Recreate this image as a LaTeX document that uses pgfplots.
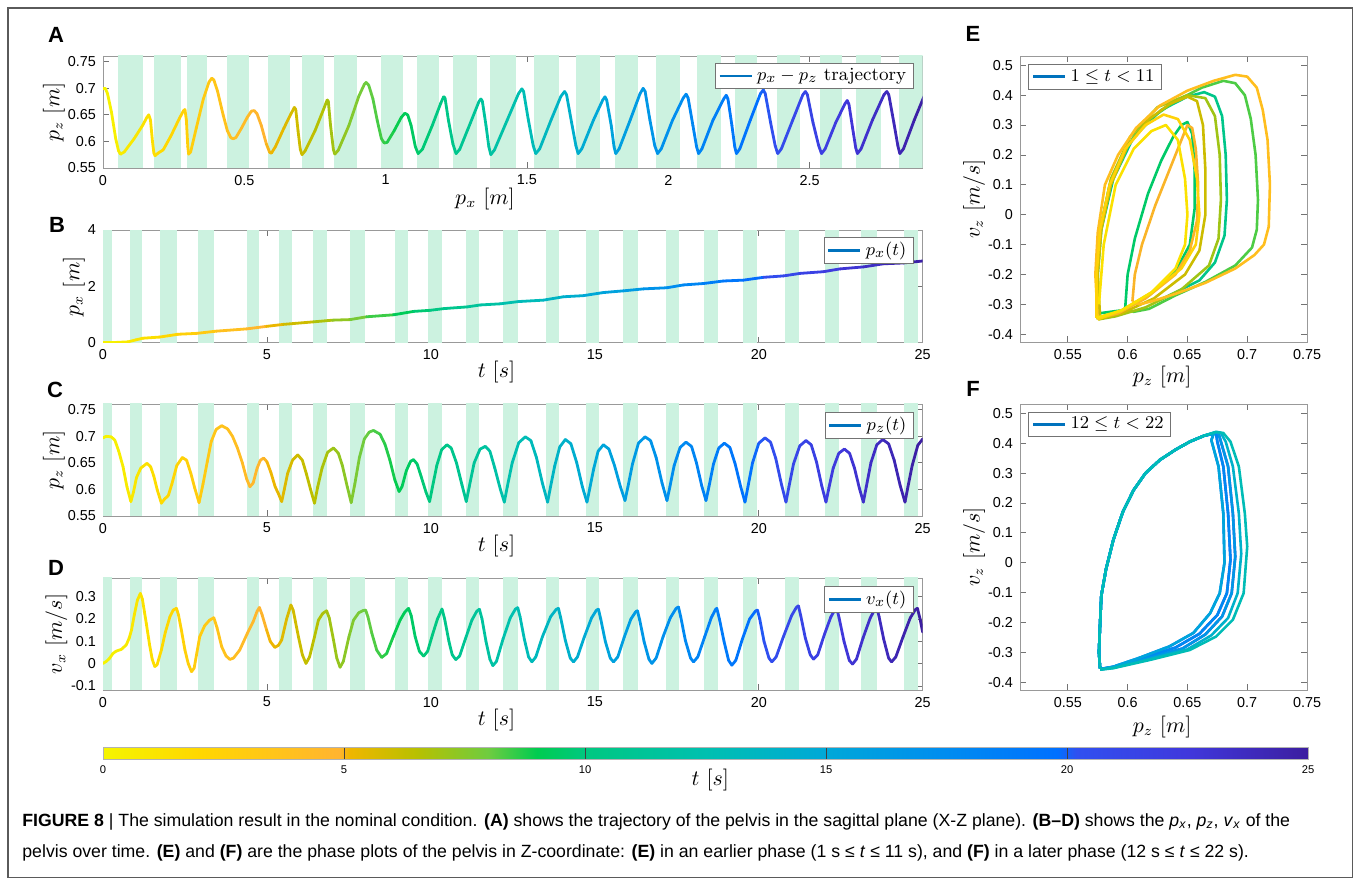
\documentclass[border=0pt]{standalone}
\usepackage{fontspec}
\usepackage{pgfplots}
\pgfplotsset{compat=1.18}
\newfontfamily\arial{Liberation Sans}
\newfontfamily\capfont{Liberation Sans}
\newcommand{\tickfont}{\arial\fontsize{7.2}{8}\selectfont}
\definecolor{band}{RGB}{204,242,224}
\definecolor{mblue}{RGB}{0,114,189}
\definecolor{frame}{RGB}{90,90,90}
% loop colours (sampled from the colour map at the cycle time)
\definecolor{c01}{RGB}{251,225,0}
\definecolor{c02}{RGB}{255,210,7}
\definecolor{c03}{RGB}{255,190,30}
\definecolor{c04}{RGB}{250,180,40}
\definecolor{c05}{RGB}{204,188,0}
\definecolor{c06}{RGB}{160,196,21}
\definecolor{c07}{RGB}{77,204,69}
\definecolor{c08}{RGB}{0,202,104}
\definecolor{c09}{RGB}{0,198,138}
\definecolor{c12}{RGB}{0,188,182}
\definecolor{c14}{RGB}{0,177,202}
\definecolor{c15}{RGB}{0,165,219}
\definecolor{c16}{RGB}{0,151,230}
\definecolor{c17}{RGB}{0,136,242}
\definecolor{c19}{RGB}{0,122,250}
\definecolor{c20}{RGB}{48,80,240}
\definecolor{c21}{RGB}{56,67,230}

\pgfplotsset{
  colormap={tmap}{rgb255(0cm)=(245,245,0); rgb255(2cm)=(255,215,0); rgb255(4.9cm)=(255,180,48);
    rgb255(5.1cm)=(240,182,0); rgb255(6.5cm)=(184,192,0); rgb255(8cm)=(110,204,64);
    rgb255(9cm)=(0,204,80); rgb255(10cm)=(0,200,128); rgb255(12.5cm)=(0,192,176);
    rgb255(15cm)=(0,168,216); rgb255(17.5cm)=(0,140,240); rgb255(19.8cm)=(0,112,255);
    rgb255(20.2cm)=(48,80,240); rgb255(22.5cm)=(64,56,220); rgb255(25cm)=(60,30,160)},
  colormap name=tmap,
  base/.style={
    scale only axis,
    axis line style={black!40},
    tick style={black!55, line width=0.4pt},
    major tick length=2.8pt,
    tick align=inside,
    tick label style={font=\tickfont},
    /pgf/number format/assume math mode=true,
    /pgf/number format/fixed,
    label style={font=\fontsize{10.5}{12}\selectfont},
    legend style={draw=black!55, font=\fontsize{9.3}{11}\selectfont,
      inner xsep=1.5pt, inner ysep=0.5pt, row sep=-1pt},
    legend image code/.code={\draw[mblue, line width=1.4pt] (0pt,0pt) -- (16pt,0pt);},
    legend cell align=left,
  },
  curve/.style={mesh, line width=1.4pt, line cap=round, forget plot},
  loop/.style={line width=1.3pt, line join=round, forget plot},
}
\newcommand{\band}[2]{\addplot[fill=band, draw=none, forget plot] coordinates {(#1,-10) (#1,10) (#2,10) (#2,-10)};}
\newcommand{\tbands}{%
  \band{0}{0.26}\band{0.81}{1.18}\band{1.75}{2.27}\band{2.90}{3.40}\band{4.38}{4.77}%
  \band{5.38}{5.75}\band{6.41}{6.82}\band{7.54}{7.99}\band{8.92}{9.31}\band{9.92}{10.34}%
  \band{11.07}{11.48}\band{12.20}{12.66}\band{13.51}{13.92}\band{14.72}{15.13}%
  \band{15.87}{16.31}\band{17.17}{17.57}\band{18.34}{18.77}\band{19.53}{19.95}%
  \band{20.80}{21.22}\band{22.01}{22.44}\band{23.13}{23.62}\band{24.42}{24.87}}

\begin{document}
\begin{tikzpicture}
\path[use as bounding box] (0,0) rectangle (677pt,-439pt);
\draw[frame, line width=0.6pt] (4pt,-4pt) rectangle (676.2pt,-438.6pt);

% ---------------- A
\begin{axis}[base, at={(51.5pt,-28pt)}, anchor=north west, width=409.85pt, height=56pt,
  xmin=0, xmax=2.9, ymin=0.55, ymax=0.761,
  xtick={0,0.5,1,1.5,2,2.5}, ytick={0.55,0.6,0.65,0.7,0.75},
  point meta min=0, point meta max=2.92,
  xlabel={$p_x\ [m]$}, ylabel={$p_z\ [m]$},
  xlabel style={at={(axis description cs:0.466,-0.277)}, anchor=center},
  ylabel style={at={(axis description cs:-0.0598,0.5)}, anchor=center},
  legend style={at={(0.989,0.9375)}, anchor=north east}]
\band{0.052}{0.142}\band{0.180}{0.276}\band{0.298}{0.369}\band{0.440}{0.516}
\band{0.585}{0.660}\band{0.705}{0.781}\band{0.817}{0.899}\band{0.982}{1.060}
\band{1.112}{1.189}\band{1.240}{1.323}\band{1.368}{1.460}\band{1.526}{1.612}
\band{1.673}{1.757}\band{1.810}{1.891}\band{1.956}{2.042}\band{2.102}{2.185}
\band{2.236}{2.315}\band{2.384}{2.467}\band{2.536}{2.616}\band{2.664}{2.754}
\band{2.816}{2.904}
\addplot[curve, point meta=x] coordinates {
(0,0.700) (0.008,0.700) (0.016,0.690) (0.030,0.655) (0.045,0.605) (0.055,0.582) (0.062,0.576)
(0.075,0.580) (0.110,0.605) (0.140,0.630) (0.155,0.645) (0.162,0.650) (0.168,0.640) (0.175,0.600) (0.180,0.578) (0.184,0.573)
(0.195,0.578) (0.213,0.584) (0.240,0.610) (0.270,0.643) (0.285,0.658) (0.290,0.660) (0.295,0.640) (0.300,0.590) (0.303,0.576)
(0.310,0.580) (0.330,0.625) (0.355,0.680) (0.375,0.712) (0.385,0.719) (0.392,0.716) (0.405,0.695) (0.425,0.650) (0.440,0.620) (0.452,0.607) (0.460,0.605) (0.470,0.607)
(0.490,0.625) (0.510,0.645) (0.525,0.657) (0.535,0.658) (0.545,0.652) (0.560,0.630) (0.578,0.595) (0.590,0.579) (0.596,0.578)
(0.610,0.590) (0.640,0.625) (0.665,0.652) (0.677,0.664) (0.682,0.660) (0.690,0.620) (0.698,0.585) (0.704,0.575)
(0.715,0.582) (0.750,0.620) (0.780,0.660) (0.793,0.678) (0.797,0.676) (0.805,0.630) (0.815,0.585) (0.820,0.576)
(0.832,0.583) (0.870,0.630) (0.905,0.685) (0.925,0.708) (0.931,0.711) (0.940,0.706) (0.955,0.680) (0.970,0.640) (0.985,0.605) (0.995,0.597) (1.005,0.598)
(1.030,0.620) (1.055,0.645) (1.068,0.653) (1.078,0.650) (1.090,0.630) (1.105,0.590) (1.115,0.577)
(1.130,0.585) (1.165,0.630) (1.195,0.672) (1.205,0.684) (1.210,0.682) (1.222,0.640) (1.238,0.595) (1.249,0.577)
(1.262,0.585) (1.300,0.635) (1.330,0.675) (1.337,0.680) (1.342,0.676) (1.355,0.630) (1.365,0.590) (1.372,0.575)
(1.385,0.584) (1.430,0.640) (1.470,0.690) (1.482,0.699) (1.488,0.694) (1.505,0.640) (1.522,0.592) (1.531,0.577)
(1.545,0.586) (1.585,0.640) (1.620,0.685) (1.633,0.694) (1.640,0.688) (1.658,0.635) (1.673,0.592) (1.681,0.577)
(1.694,0.586) (1.735,0.640) (1.768,0.678) (1.776,0.684) (1.782,0.678) (1.798,0.630) (1.808,0.590) (1.814,0.577)
(1.826,0.586) (1.865,0.640) (1.900,0.690) (1.911,0.700) (1.918,0.694) (1.935,0.640) (1.952,0.592) (1.962,0.577)
(1.975,0.586) (2.015,0.640) (2.053,0.682) (2.063,0.689) (2.070,0.682) (2.087,0.630) (2.100,0.590) (2.107,0.577)
(2.119,0.586) (2.158,0.640) (2.197,0.681) (2.205,0.687) (2.211,0.680) (2.225,0.630) (2.235,0.590) (2.241,0.577)
(2.253,0.586) (2.290,0.640) (2.326,0.690) (2.336,0.697) (2.343,0.690) (2.362,0.635) (2.378,0.592) (2.387,0.577)
(2.400,0.586) (2.440,0.640) (2.476,0.688) (2.485,0.694) (2.492,0.688) (2.512,0.635) (2.532,0.592) (2.542,0.577)
(2.555,0.586) (2.592,0.635) (2.625,0.671) (2.633,0.677) (2.639,0.670) (2.652,0.625) (2.663,0.588) (2.669,0.577)
(2.682,0.586) (2.722,0.640) (2.763,0.688) (2.773,0.694) (2.780,0.688) (2.798,0.635) (2.812,0.592) (2.819,0.577)
(2.832,0.586) (2.870,0.640) (2.914,0.697)};
\addlegendimage{mblue}
\addlegendentry{$p_x - p_z$ trajectory}
\end{axis}

% ---------------- B
\begin{axis}[base, at={(51.5pt,-115pt)}, anchor=north west, width=409.85pt, height=56.35pt,
  xmin=0, xmax=25, ymin=0, ymax=4,
  xtick={0,5,10,15,20,25}, ytick={0,2,4},
  point meta min=0, point meta max=25,
  xlabel={$t\ [s]$}, ylabel={$p_x\ [m]$},
  xlabel style={at={(axis description cs:0.48,-0.26)}, anchor=center},
  ylabel style={at={(axis description cs:-0.0354,0.5)}, anchor=center},
  legend style={at={(0.989,0.94)}, anchor=north east}]
\tbands
\addplot[curve, point meta=x] coordinates {
(0,0.01) (0.4,0.01) (0.76,0.03) (1.0,0.10) (1.22,0.16) (1.73,0.20) (2.29,0.30) (2.85,0.33)
(3.46,0.41) (4.38,0.49) (4.99,0.58) (5.50,0.65) (6.42,0.74) (7.00,0.80) (7.54,0.82) (8.04,0.92)
(8.86,0.99) (9.47,1.11) (9.98,1.15) (10.39,1.21) (11.10,1.27) (11.51,1.34) (12.12,1.38) (12.67,1.46)
(13.43,1.51) (14.04,1.63) (14.65,1.67) (15.26,1.78) (15.87,1.84) (16.48,1.91) (17.20,1.95) (17.70,2.05)
(18.31,2.10) (18.92,2.19) (19.53,2.22) (20.14,2.32) (20.75,2.37) (21.26,2.46) (21.97,2.52) (22.48,2.62)
(23.19,2.69) (23.80,2.80) (24.41,2.83) (25.0,2.90)};
\addlegendimage{mblue}
\addlegendentry{$p_x(t)$}
\end{axis}

% ---------------- C
\begin{axis}[base, at={(51.5pt,-202pt)}, anchor=north west, width=409.85pt, height=56pt,
  xmin=0, xmax=25, ymin=0.55, ymax=0.761,
  xtick={0,5,10,15,20,25}, ytick={0.55,0.6,0.65,0.7,0.75},
  point meta min=0, point meta max=25,
  xlabel={$t\ [s]$}, ylabel={$p_z\ [m]$},
  xlabel style={at={(axis description cs:0.48,-0.27)}, anchor=center},
  ylabel style={at={(axis description cs:-0.0598,0.5)}, anchor=center},
  legend style={at={(0.989,0.93)}, anchor=north east}]
\tbands
\addplot[curve, point meta=x] coordinates {
(0,0.697) (0.1,0.700) (0.25,0.699) (0.36,0.693) (0.48,0.672) (0.61,0.643) (0.73,0.605) (0.85,0.577)
(0.93,0.595) (1.02,0.622) (1.15,0.640) (1.34,0.649) (1.45,0.643) (1.55,0.625) (1.65,0.600) (1.78,0.574)
(1.88,0.582) (1.99,0.588) (2.10,0.610) (2.25,0.645) (2.42,0.660) (2.55,0.655) (2.68,0.630) (2.80,0.602) (2.93,0.575)
(3.05,0.610) (3.18,0.652) (3.30,0.690) (3.45,0.713) (3.62,0.720) (3.80,0.714) (3.95,0.700) (4.10,0.678) (4.25,0.650) (4.38,0.620) (4.48,0.605)
(4.58,0.612) (4.70,0.640) (4.80,0.655) (4.90,0.659) (5.00,0.652) (5.12,0.632) (5.25,0.605) (5.35,0.592) (5.45,0.577)
(5.53,0.600) (5.63,0.630) (5.78,0.655) (5.94,0.665) (6.08,0.655) (6.20,0.630) (6.33,0.600) (6.45,0.574)
(6.55,0.605) (6.68,0.640) (6.85,0.670) (7.03,0.678) (7.18,0.668) (7.30,0.645) (7.45,0.605) (7.57,0.575)
(7.68,0.610) (7.82,0.660) (7.97,0.695) (8.12,0.708) (8.25,0.711) (8.45,0.704) (8.60,0.685) (8.75,0.655) (8.90,0.618) (9.03,0.596)
(9.12,0.605) (9.25,0.635) (9.38,0.653) (9.47,0.656) (9.58,0.648) (9.70,0.625) (9.85,0.595) (9.96,0.577)
(10.05,0.605) (10.18,0.645) (10.33,0.675) (10.49,0.684) (10.62,0.678) (10.78,0.650) (10.95,0.608) (11.08,0.577)
(11.17,0.605) (11.32,0.650) (11.50,0.676) (11.66,0.681) (11.80,0.672) (11.95,0.640) (12.12,0.600) (12.24,0.576)
(12.33,0.605) (12.48,0.650) (12.68,0.688) (12.88,0.699) (13.05,0.692) (13.22,0.660) (13.40,0.612) (13.56,0.576)
(13.65,0.605) (13.78,0.645) (13.93,0.680) (14.10,0.694) (14.27,0.686) (14.45,0.650) (14.62,0.605) (14.76,0.576)
(14.85,0.603) (14.97,0.640) (15.10,0.672) (15.26,0.684) (15.43,0.676) (15.60,0.645) (15.78,0.605) (15.92,0.579)
(16.01,0.605) (16.15,0.648) (16.33,0.687) (16.53,0.699) (16.70,0.692) (16.87,0.660) (17.05,0.612) (17.20,0.579)
(17.29,0.605) (17.42,0.645) (17.60,0.679) (17.78,0.689) (17.95,0.681) (18.10,0.650) (18.26,0.607) (18.39,0.579)
(18.48,0.605) (18.62,0.648) (18.78,0.678) (18.95,0.687) (19.12,0.679) (19.28,0.648) (19.45,0.605) (19.58,0.576)
(19.67,0.605) (19.81,0.650) (20.00,0.687) (20.19,0.697) (20.36,0.689) (20.52,0.658) (20.69,0.610) (20.83,0.576)
(20.92,0.605) (21.06,0.648) (21.25,0.682) (21.44,0.692) (21.60,0.684) (21.76,0.652) (21.92,0.607) (22.05,0.576)
(22.14,0.603) (22.27,0.640) (22.44,0.668) (22.61,0.676) (22.77,0.668) (22.92,0.640) (23.07,0.602) (23.19,0.576)
(23.28,0.605) (23.42,0.650) (23.60,0.684) (23.78,0.694) (23.96,0.686) (24.13,0.655) (24.31,0.608) (24.46,0.576)
(24.55,0.605) (24.68,0.645) (24.85,0.683) (25.0,0.695)};
\addlegendimage{mblue}
\addlegendentry{$p_z(t)$}
\end{axis}

% ---------------- D (with the colour bar)
\begin{axis}[base, at={(51.5pt,-289pt)}, anchor=north west, width=409.85pt, height=56pt,
  xmin=0, xmax=25, ymin=-0.118, ymax=0.384,
  xtick={0,5,10,15,20,25}, ytick={-0.1,0,0.1,0.2,0.3},
  point meta min=0, point meta max=25,
  xlabel={$t\ [s]$}, ylabel={$v_x\ [m/s]$},
  xlabel style={at={(axis description cs:0.48,-0.268)}, anchor=center},
  ylabel style={at={(axis description cs:-0.0567,0.5)}, anchor=center},
  legend style={at={(0.989,0.93)}, anchor=north east},
  colorbar horizontal,
  colorbar style={at={(0,-0.509)}, anchor=north west, scale only axis,
    width=602.5pt, height=6pt, xtick={0,5,10,15,20,25}, ytick=\empty,
    tick align=inside, major tick length=6pt, tick style={black!75, line width=0.5pt},
    axis line style={black!30},
    xticklabel style={font=\arial\fontsize{5.6}{6}\selectfont},
    /pgf/number format/assume math mode=true,
    xlabel={$t\ [s]$},
    xlabel style={at={(axis description cs:0.504,-1.75)}, anchor=center,
      font=\fontsize{10.5}{12}\selectfont}}]
\tbands
\addplot[curve, point meta=x] coordinates {
(0,0.001) (0.1,0.010) (0.2,0.024) (0.3,0.045) (0.4,0.056) (0.56,0.064) (0.71,0.084) (0.80,0.115) (0.87,0.151) (0.95,0.215) (1.05,0.285) (1.14,0.315)
(1.20,0.290) (1.32,0.181) (1.42,0.085) (1.50,0.020) (1.58,-0.013) (1.65,-0.005) (1.78,0.061) (1.90,0.140) (2.04,0.210) (2.14,0.240) (2.24,0.248)
(2.30,0.220) (2.39,0.151) (2.50,0.060) (2.60,0.000) (2.70,-0.036) (2.78,-0.020) (2.95,0.121) (3.10,0.170) (3.25,0.195) (3.38,0.206)
(3.48,0.160) (3.62,0.076) (3.75,0.035) (3.87,0.019) (3.98,0.025) (4.17,0.061) (4.40,0.135) (4.58,0.188) (4.70,0.235) (4.77,0.252)
(4.85,0.220) (4.99,0.151) (5.10,0.100) (5.24,0.073) (5.35,0.082) (5.45,0.106) (5.60,0.200) (5.73,0.263)
(5.80,0.240) (5.96,0.121) (6.08,0.040) (6.19,0.001) (6.30,0.030) (6.45,0.120) (6.57,0.195) (6.70,0.225) (6.82,0.237)
(6.90,0.205) (7.03,0.106) (7.13,0.025) (7.23,-0.016) (7.33,0.010) (7.50,0.120) (7.64,0.195) (7.80,0.228) (7.93,0.238) (8.01,0.240)
(8.08,0.210) (8.20,0.136) (8.35,0.060) (8.50,0.028) (8.65,0.045) (8.85,0.120) (9.06,0.195) (9.20,0.230) (9.32,0.248)
(9.40,0.215) (9.52,0.121) (9.65,0.055) (9.78,0.034) (9.90,0.055) (10.05,0.130) (10.20,0.200) (10.34,0.245)
(10.42,0.200) (10.55,0.100) (10.65,0.040) (10.76,0.018) (10.88,0.035) (11.05,0.110) (11.25,0.195) (11.40,0.235) (11.48,0.244)
(11.56,0.200) (11.68,0.100) (11.80,0.020) (11.89,-0.009) (12.00,0.010) (12.20,0.110) (12.42,0.205) (12.58,0.245) (12.65,0.251)
(12.72,0.210) (12.85,0.110) (12.98,0.030) (13.08,0.008) (13.20,0.030) (13.40,0.120) (13.65,0.210) (13.82,0.243) (13.89,0.248)
(13.96,0.205) (14.10,0.105) (14.25,0.025) (14.35,0.008) (14.47,0.030) (14.68,0.120) (14.90,0.205) (15.05,0.240) (15.11,0.244)
(15.18,0.200) (15.32,0.100) (15.47,0.025) (15.57,0.008) (15.70,0.030) (15.90,0.120) (16.10,0.200) (16.25,0.233) (16.30,0.237)
(16.37,0.195) (16.50,0.100) (16.65,0.020) (16.74,0.001) (16.87,0.025) (17.08,0.120) (17.30,0.205) (17.48,0.248) (17.55,0.254)
(17.62,0.210) (17.76,0.105) (17.92,0.025) (18.01,0.008) (18.14,0.030) (18.35,0.120) (18.55,0.205) (18.68,0.243) (18.72,0.248)
(18.80,0.200) (18.94,0.100) (19.08,0.015) (19.18,-0.007) (19.30,0.015) (19.50,0.110) (19.72,0.200) (19.90,0.236) (19.96,0.240)
(20.03,0.200) (20.16,0.100) (20.31,0.025) (20.40,0.008) (20.53,0.030) (20.75,0.120) (21.00,0.215) (21.15,0.253) (21.21,0.259)
(21.28,0.215) (21.42,0.115) (21.57,0.040) (21.67,0.020) (21.80,0.040) (22.00,0.130) (22.20,0.210) (22.33,0.243) (22.38,0.248)
(22.45,0.205) (22.60,0.100) (22.76,0.015) (22.86,-0.002) (22.98,0.020) (23.18,0.115) (23.40,0.205) (23.55,0.246) (23.60,0.251)
(23.67,0.210) (23.81,0.110) (23.96,0.025) (24.05,0.008) (24.18,0.030) (24.40,0.120) (24.62,0.205) (24.78,0.243) (24.84,0.248)
(24.92,0.200) (25.0,0.141)};
\addlegendimage{mblue}
\addlegendentry{$v_x(t)$}
\end{axis}

% ---------------- E
\begin{axis}[base, at={(510pt,-28pt)}, anchor=north west, width=143.5pt, height=143pt,
  xmin=0.51, xmax=0.75, ymin=-0.426, ymax=0.531,
  xtick={0.55,0.6,0.65,0.7,0.75}, ytick={-0.4,-0.3,-0.2,-0.1,0,0.1,0.2,0.3,0.4,0.5},
  xlabel={$p_z\ [m]$}, ylabel={$v_z\ [m/s]$},
  xlabel style={at={(axis description cs:0.495,-0.122)}, anchor=center},
  ylabel style={at={(axis description cs:-0.160,0.5)}, anchor=center},
  legend style={at={(0.029,0.972)}, anchor=north west}]
\addplot[loop, c09] coordinates {(0.576,-0.33) (0.575,-0.2) (0.578,-0.05) (0.588,0.12) (0.605,0.26) (0.628,0.35) (0.650,0.395) (0.664,0.41) (0.673,0.395) (0.679,0.33) (0.682,0.20) (0.683,0.05) (0.681,-0.07) (0.673,-0.16) (0.660,-0.22) (0.640,-0.26) (0.627,-0.285)};
\addplot[loop, c08] coordinates {(0.598,-0.31) (0.600,-0.2) (0.606,-0.08) (0.617,0.07) (0.628,0.18) (0.638,0.26) (0.645,0.30) (0.650,0.31) (0.654,0.27) (0.656,0.15) (0.656,0.02) (0.652,-0.10) (0.640,-0.19) (0.618,-0.27) (0.595,-0.32) (0.576,-0.33)};
\addplot[loop, c07] coordinates {(0.576,-0.35) (0.574,-0.2) (0.577,-0.05) (0.585,0.10) (0.598,0.22) (0.615,0.31) (0.640,0.38) (0.662,0.425) (0.680,0.448) (0.690,0.440) (0.698,0.40) (0.703,0.32) (0.707,0.20) (0.709,0.05) (0.708,-0.05) (0.704,-0.11) (0.690,-0.17) (0.665,-0.225) (0.640,-0.27) (0.618,-0.315) (0.605,-0.325) (0.598,-0.31)};
\addplot[loop, c06] coordinates {(0.575,-0.35) (0.574,-0.2) (0.577,-0.05) (0.586,0.12) (0.602,0.26) (0.625,0.36) (0.650,0.40) (0.665,0.39) (0.673,0.33) (0.677,0.20) (0.678,0.05) (0.676,-0.08) (0.668,-0.17) (0.645,-0.25) (0.615,-0.31) (0.590,-0.34) (0.576,-0.35)};
\addplot[loop, c05] coordinates {(0.577,-0.345) (0.575,-0.2) (0.578,-0.05) (0.586,0.10) (0.600,0.23) (0.618,0.32) (0.635,0.37) (0.650,0.395) (0.658,0.38) (0.663,0.30) (0.665,0.15) (0.665,0.0) (0.660,-0.12) (0.648,-0.20) (0.622,-0.28) (0.595,-0.33) (0.575,-0.35)};
\addplot[loop, c04] coordinates {(0.604,-0.29) (0.606,-0.2) (0.612,-0.10) (0.623,0.03) (0.635,0.15) (0.645,0.25) (0.650,0.30) (0.654,0.29) (0.657,0.22) (0.659,0.10) (0.658,-0.02) (0.652,-0.12) (0.640,-0.20) (0.615,-0.28) (0.592,-0.33) (0.577,-0.345)};
\addplot[loop, c03] coordinates {(0.575,-0.35) (0.573,-0.20) (0.575,-0.06) (0.581,0.10) (0.592,0.20) (0.607,0.29) (0.627,0.365) (0.650,0.415) (0.672,0.448) (0.690,0.468) (0.700,0.462) (0.708,0.425) (0.713,0.35) (0.717,0.25) (0.719,0.10) (0.718,-0.04) (0.714,-0.10) (0.706,-0.135) (0.690,-0.18) (0.665,-0.228) (0.640,-0.265) (0.620,-0.29) (0.610,-0.300) (0.604,-0.29)};
\addplot[loop, c02] coordinates {(0.574,-0.345) (0.574,-0.2) (0.577,-0.05) (0.585,0.10) (0.598,0.22) (0.615,0.30) (0.630,0.335) (0.642,0.32) (0.652,0.25) (0.658,0.12) (0.660,0.0) (0.657,-0.10) (0.645,-0.18) (0.620,-0.26) (0.595,-0.32) (0.575,-0.35)};
\addplot[loop, c01] coordinates {(0.576,-0.30) (0.580,-0.10) (0.590,0.10) (0.605,0.22) (0.620,0.28) (0.632,0.30) (0.642,0.25) (0.648,0.12) (0.650,0.0) (0.648,-0.10) (0.640,-0.18) (0.620,-0.26) (0.595,-0.32) (0.574,-0.345)};
\addlegendimage{mblue}
\addlegendentry{$1 \leq t < 11$}
\end{axis}

% ---------------- F
\begin{axis}[base, at={(510pt,-202pt)}, anchor=north west, width=143.5pt, height=143pt,
  xmin=0.51, xmax=0.75, ymin=-0.426, ymax=0.531,
  xtick={0.55,0.6,0.65,0.7,0.75}, ytick={-0.4,-0.3,-0.2,-0.1,0,0.1,0.2,0.3,0.4,0.5},
  xlabel={$p_z\ [m]$}, ylabel={$v_z\ [m/s]$},
  xlabel style={at={(axis description cs:0.495,-0.129)}, anchor=center},
  ylabel style={at={(axis description cs:-0.160,0.5)}, anchor=center},
  legend style={at={(0.029,0.973)}, anchor=north west}]
\addplot[loop, c21] coordinates {(0.577,-0.355) (0.576,-0.30) (0.577,-0.20) (0.578,-0.11) (0.582,-0.02) (0.588,0.076) (0.596,0.17) (0.605,0.243) (0.615,0.30) (0.627,0.344) (0.640,0.378) (0.652,0.405) (0.664,0.425) (0.674,0.436) (0.676,0.433) (0.678,0.405) (0.684,0.322) (0.688,0.165) (0.690,0.02) (0.687,-0.102) (0.679,-0.18) (0.665,-0.24) (0.646,-0.287) (0.615,-0.322) (0.588,-0.35) (0.577,-0.357)};
\addplot[loop, c20] coordinates {(0.577,-0.355) (0.576,-0.30) (0.577,-0.20) (0.578,-0.11) (0.582,-0.02) (0.588,0.076) (0.596,0.17) (0.605,0.243) (0.615,0.30) (0.627,0.344) (0.640,0.378) (0.652,0.405) (0.664,0.425) (0.674,0.433) (0.675,0.405) (0.680,0.322) (0.684,0.165) (0.686,0.01) (0.683,-0.102) (0.675,-0.175) (0.660,-0.238) (0.640,-0.284) (0.612,-0.32) (0.588,-0.349) (0.577,-0.356)};
\addplot[loop, c19] coordinates {(0.577,-0.355) (0.576,-0.30) (0.577,-0.20) (0.578,-0.11) (0.582,-0.02) (0.588,0.076) (0.596,0.17) (0.605,0.243) (0.615,0.30) (0.627,0.344) (0.640,0.378) (0.652,0.405) (0.664,0.425) (0.672,0.432) (0.670,0.41) (0.676,0.322) (0.680,0.165) (0.681,0.0) (0.677,-0.102) (0.669,-0.169) (0.655,-0.235) (0.635,-0.28) (0.610,-0.318) (0.588,-0.348) (0.577,-0.356)};
\addplot[loop, c17] coordinates {(0.577,-0.355) (0.576,-0.30) (0.577,-0.20) (0.578,-0.11) (0.582,-0.02) (0.588,0.076) (0.596,0.17) (0.605,0.243) (0.615,0.30) (0.627,0.344) (0.640,0.378) (0.652,0.405) (0.664,0.425) (0.674,0.433) (0.675,0.405) (0.680,0.322) (0.684,0.165) (0.686,0.01) (0.683,-0.102) (0.675,-0.175) (0.660,-0.238) (0.640,-0.284) (0.612,-0.32) (0.588,-0.349) (0.577,-0.356)};
\addplot[loop, c16] coordinates {(0.577,-0.355) (0.576,-0.30) (0.577,-0.20) (0.578,-0.11) (0.582,-0.02) (0.588,0.076) (0.596,0.17) (0.605,0.243) (0.615,0.30) (0.627,0.344) (0.640,0.378) (0.652,0.405) (0.664,0.425) (0.674,0.436) (0.676,0.433) (0.678,0.405) (0.684,0.322) (0.688,0.165) (0.690,0.02) (0.687,-0.102) (0.679,-0.18) (0.665,-0.24) (0.646,-0.287) (0.615,-0.322) (0.588,-0.35) (0.577,-0.357)};
\addplot[loop, c15] coordinates {(0.577,-0.355) (0.576,-0.30) (0.577,-0.20) (0.578,-0.11) (0.582,-0.02) (0.588,0.076) (0.596,0.17) (0.605,0.243) (0.615,0.30) (0.627,0.344) (0.640,0.378) (0.652,0.405) (0.664,0.425) (0.672,0.432) (0.670,0.41) (0.676,0.322) (0.680,0.165) (0.681,0.0) (0.677,-0.102) (0.669,-0.169) (0.655,-0.235) (0.635,-0.28) (0.610,-0.318) (0.588,-0.348) (0.577,-0.356)};
\addplot[loop, c14] coordinates {(0.577,-0.355) (0.576,-0.30) (0.577,-0.20) (0.578,-0.11) (0.582,-0.02) (0.588,0.076) (0.596,0.17) (0.605,0.243) (0.615,0.30) (0.627,0.344) (0.640,0.378) (0.652,0.405) (0.664,0.425) (0.674,0.437) (0.678,0.434) (0.682,0.405) (0.688,0.322) (0.693,0.165) (0.695,0.03) (0.692,-0.102) (0.684,-0.185) (0.670,-0.243) (0.650,-0.29) (0.617,-0.324) (0.588,-0.352) (0.577,-0.357)};
\addplot[loop, c12] coordinates {(0.577,-0.355) (0.576,-0.30) (0.577,-0.20) (0.578,-0.11) (0.582,-0.02) (0.588,0.076) (0.596,0.17) (0.605,0.243) (0.615,0.30) (0.627,0.344) (0.640,0.378) (0.652,0.405) (0.664,0.425) (0.674,0.438) (0.680,0.434) (0.686,0.405) (0.693,0.322) (0.698,0.165) (0.700,0.054) (0.697,-0.102) (0.688,-0.191) (0.674,-0.247) (0.652,-0.292) (0.619,-0.325) (0.588,-0.353) (0.577,-0.358)};
\addlegendimage{mblue}
\addlegendentry{$12 \leq t < 22$}
\end{axis}

% panel letters
\begin{scope}[every node/.style={font=\arial\bfseries\fontsize{11}{12}\selectfont, inner sep=0}]
\node at (28pt,-17.5pt) {A};
\node at (28.5pt,-112.5pt) {B};
\node at (27.5pt,-195pt) {C};
\node at (28pt,-284pt) {D};
\node at (486.5pt,-17pt) {E};
\node at (486.5pt,-194.5pt) {F};
\end{scope}

% caption
\begin{scope}[every node/.style={anchor=base west, inner sep=0, font=\capfont\fontsize{8.85}{10}\selectfont}]
\node at (11pt,-413pt) {\textbf{FIGURE 8} | The simulation result in the nominal condition. \textbf{(A)} shows the trajectory of the pelvis in the sagittal plane (X-Z plane). \textbf{(B–D)} shows the \textit{p}\textsubscript{\textit{x}}, \textit{p}\textsubscript{\textit{z}}, \textit{v}\textsubscript{\textit{x}} of the};
\node at (11pt,-428.5pt) {pelvis over time. \textbf{(E)} and \textbf{(F)} are the phase plots of the pelvis in Z-coordinate: \textbf{(E)} in an earlier phase (1 s ≤ \textit{t} ≤ 11 s), and \textbf{(F)} in a later phase (12 s ≤ \textit{t} ≤ 22 s).};
\end{scope}
\end{tikzpicture}
\end{document}
